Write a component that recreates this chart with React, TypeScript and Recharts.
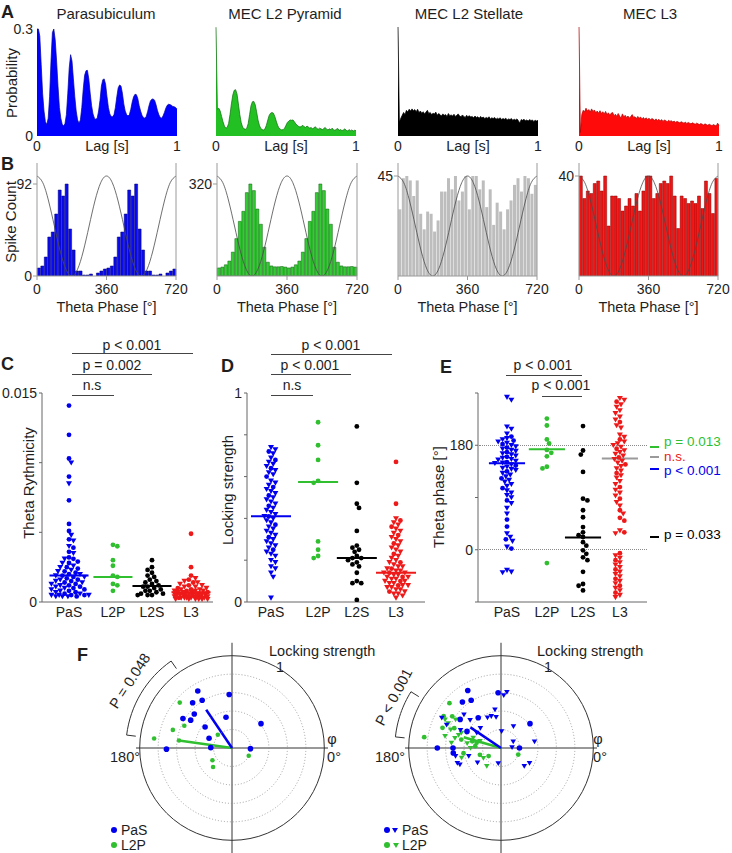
import React from 'react';
import { AreaChart, Area, ComposedChart, Bar, Line, Scatter, XAxis, YAxis, ReferenceLine, ReferenceDot } from 'recharts';

const FONT = '"Liberation Sans", Arial, Helvetica, sans-serif';
const TXT = '#1e1e1e';
const BLUE = '#0000ee';
const GREEN = '#2fbf2f';
const RED = '#ee1a1a';
const BLACK = '#000000';
const AXIS = '#666666';
const tickStyle = { fontSize: 14, fill: TXT, fontFamily: FONT };

// ---------------- A: autocorrelograms (lag 0..1 s, 10 ms bins) ----------------
const lagBins = Array.from({ length: 101 }, (_, i) => i / 100);
const acParasub = [0.30, 0.30, 0.28, 0.20, 0.12, 0.07, 0.04, 0.032, 0.05, 0.11,
  0.21, 0.29, 0.30, 0.27, 0.21, 0.14, 0.08, 0.05, 0.033, 0.028,
  0.035, 0.06, 0.12, 0.19, 0.228, 0.21, 0.16, 0.11, 0.07, 0.045,
  0.036, 0.045, 0.08, 0.13, 0.17, 0.183, 0.184, 0.16, 0.12, 0.085,
  0.062, 0.05, 0.047, 0.05, 0.07, 0.10, 0.14, 0.158, 0.16, 0.145,
  0.11, 0.08, 0.062, 0.055, 0.054, 0.06, 0.08, 0.11, 0.135, 0.143,
  0.14, 0.12, 0.09, 0.07, 0.06, 0.056, 0.06, 0.075, 0.095, 0.11,
  0.117, 0.116, 0.105, 0.085, 0.07, 0.058, 0.052, 0.05, 0.055, 0.068,
  0.085, 0.098, 0.103, 0.104, 0.10, 0.088, 0.072, 0.06, 0.052, 0.05,
  0.056, 0.066, 0.078, 0.086, 0.089, 0.088, 0.086, 0.083, 0.082, 0.08,
  0.076];
const acPyramid = [0.305, 0.075, 0.078, 0.07, 0.055, 0.04, 0.028, 0.022, 0.024, 0.035,
  0.06, 0.09, 0.115, 0.128, 0.13, 0.118, 0.09, 0.06, 0.038, 0.025,
  0.02, 0.019, 0.022, 0.035, 0.06, 0.085, 0.096, 0.097, 0.088, 0.068,
  0.045, 0.03, 0.021, 0.018, 0.017, 0.02, 0.03, 0.045, 0.058, 0.064,
  0.066, 0.064, 0.055, 0.042, 0.03, 0.022, 0.019, 0.017, 0.018, 0.022,
  0.03, 0.038, 0.042, 0.045, 0.044, 0.045, 0.04, 0.034, 0.03, 0.027,
  0.025, 0.027, 0.03, 0.026, 0.024, 0.028, 0.025, 0.022, 0.024, 0.02,
  0.023, 0.026, 0.021, 0.019, 0.022, 0.02, 0.018, 0.021, 0.024, 0.019,
  0.017, 0.02, 0.018, 0.022, 0.017, 0.016, 0.019, 0.021, 0.016, 0.018,
  0.015, 0.017, 0.02, 0.016, 0.014, 0.018, 0.015, 0.017, 0.014, 0.016,
  0.015];
const acStellate = [0.31, 0.04, 0.05, 0.058, 0.066, 0.06, 0.072, 0.068, 0.075, 0.07,
  0.076, 0.071, 0.074, 0.068, 0.075, 0.066, 0.07, 0.064, 0.068, 0.062,
  0.067, 0.072, 0.063, 0.066, 0.06, 0.064, 0.062, 0.067, 0.058, 0.063,
  0.06, 0.056, 0.062, 0.058, 0.06, 0.055, 0.063, 0.057, 0.059, 0.056,
  0.061, 0.055, 0.058, 0.062, 0.056, 0.054, 0.059, 0.055, 0.052, 0.058,
  0.054, 0.057, 0.053, 0.055, 0.051, 0.056, 0.052, 0.054, 0.05, 0.055,
  0.051, 0.053, 0.049, 0.052, 0.05, 0.054, 0.048, 0.051, 0.049, 0.052,
  0.047, 0.05, 0.048, 0.051, 0.046, 0.049, 0.047, 0.05, 0.045, 0.048,
  0.046, 0.049, 0.044, 0.047, 0.045, 0.048, 0.043, 0.036, 0.046, 0.044,
  0.047, 0.043, 0.045, 0.042, 0.046, 0.043, 0.045, 0.041, 0.044, 0.042,
  0.044];
const acL3 = [0.31, 0.01, 0.06, 0.072, 0.068, 0.078, 0.07, 0.074, 0.067, 0.076,
  0.069, 0.073, 0.065, 0.07, 0.064, 0.071, 0.063, 0.068, 0.062, 0.069,
  0.06, 0.065, 0.058, 0.064, 0.066, 0.057, 0.061, 0.055, 0.063, 0.056,
  0.05, 0.062, 0.054, 0.058, 0.052, 0.056, 0.05, 0.055, 0.06, 0.052,
  0.054, 0.049, 0.055, 0.05, 0.053, 0.048, 0.052, 0.047, 0.051, 0.046,
  0.05, 0.045, 0.049, 0.047, 0.044, 0.048, 0.043, 0.047, 0.042, 0.046,
  0.041, 0.045, 0.043, 0.04, 0.044, 0.041, 0.043, 0.039, 0.042, 0.038,
  0.041, 0.039, 0.037, 0.04, 0.038, 0.036, 0.039, 0.035, 0.038, 0.036,
  0.034, 0.037, 0.035, 0.033, 0.036, 0.034, 0.032, 0.035, 0.033, 0.031,
  0.034, 0.032, 0.03, 0.033, 0.031, 0.029, 0.032, 0.03, 0.028, 0.036,
  0.03];

// ---------------- B: theta-phase histograms (40 bins of 18 deg over 0..720) ----------------
const phaseBins = Array.from({ length: 40 }, (_, i) => 9 + 18 * i);
const phParasub = [8, 10, 19, 39, 44, 62, 86, 80, 92, 47, 26, 5, 5, 1, 1, 2, 0, 3, 5, 7,
  8, 10, 19, 39, 44, 62, 86, 80, 92, 47, 26, 5, 5, 1, 1, 2, 0, 3, 5, 7];
const phPyramid = [28, 31, 39, 52, 83, 130, 190, 225, 290, 320, 297, 233, 180, 100, 48, 35, 32, 32, 33, 31,
  28, 31, 39, 52, 83, 130, 190, 225, 290, 320, 297, 233, 180, 100, 48, 35, 32, 32, 33, 31];
const phStellate = [30, 44, 45, 43, 36, 43, 28, 21, 29, 28, 20, 25, 38, 38, 44, 39, 45, 34, 38, 45,
  30, 45, 45, 39, 43, 31, 39, 23, 33, 29, 21, 30, 34, 41, 44, 38, 45, 44, 37, 41];
const phL3 = [40, 31, 34, 33, 37, 38, 34, 40, 20, 32, 32, 31, 26, 28, 31, 28, 33, 26, 34, 40,
  40, 31, 33, 37, 38, 37, 40, 32, 19, 32, 31, 29, 30, 29, 32, 27, 38, 33, 25, 39];
// theta reference wave (normalised) every 30 deg
const cosPhase = [0, 30, 60, 90, 120, 150, 180, 210, 240, 270, 300, 330, 360, 390, 420, 450, 480, 510, 540, 570, 600, 630, 660, 690, 720];
const cosRef = [1, 0.933, 0.75, 0.5, 0.25, 0.067, 0, 0.067, 0.25, 0.5, 0.75, 0.933, 1, 0.933, 0.75, 0.5, 0.25, 0.067, 0, 0.067, 0.25, 0.5, 0.75, 0.933, 1];

// ---------------- C: theta rhythmicity ----------------
const groupNames = ['PaS', 'L2P', 'L2S', 'L3'];
const rhyPaSCirc = [0.0141, 0.0120, 0.0103, 0.0090, 0.0073, 0.0056, 0.0051, 0.0045, 0.0039, 0.0036, 0.0032, 0.0031, 0.0029, 0.0028, 0.0025, 0.0024, 0.0022, 0.0021, 0.0020, 0.0019, 0.0018, 0.0017, 0.0016, 0.0015, 0.0014, 0.0013, 0.0012, 0.0011, 0.0010, 0.0009, 0.0008, 0.0007, 0.0006, 0.0005, 0.0005, 0.0004];
const rhyPaSTri = [0.0100, 0.0085, 0.0048, 0.0044, 0.0040, 0.0035, 0.0031, 0.0028, 0.0026, 0.0025, 0.0023, 0.0022, 0.0020, 0.0019, 0.0018, 0.0016, 0.0015, 0.0014, 0.0013, 0.0012, 0.0011, 0.0010, 0.0009, 0.0008, 0.0007, 0.0006, 0.0005, 0.0005, 0.0005, 0.0004, 0.0004, 0.0004];
const rhyL2P = [0.0041, 0.0040, 0.0030, 0.0026, 0.0019, 0.0018, 0.0013, 0.0012, 0.0008];
const rhyL2S = [0.0030, 0.0025, 0.0023, 0.0021, 0.0019, 0.0018, 0.0016, 0.0015, 0.0014, 0.0013, 0.0012, 0.0011, 0.0011, 0.0010, 0.0009, 0.0008, 0.0008, 0.0007, 0.0006, 0.0006, 0.0005, 0.0005, 0.0005];
const rhyL3Circ = [0.0049, 0.0025, 0.0019, 0.0016, 0.0014, 0.0012, 0.0010, 0.0009, 0.0008, 0.0007, 0.0006, 0.0005, 0.0004, 0.0003];
const rhyL3Tri = [0.0017, 0.0015, 0.0014, 0.0013, 0.0012, 0.0011, 0.0011, 0.0010, 0.0009, 0.0009, 0.0008, 0.0008, 0.0008, 0.0007, 0.0007, 0.0007, 0.0006, 0.0006, 0.0006, 0.0006, 0.0005, 0.0005, 0.0005, 0.0005, 0.0005, 0.0004, 0.0004, 0.0004, 0.0004, 0.0004, 0.0003, 0.0003, 0.0003, 0.0003, 0.0003, 0.0002, 0.0002, 0.0002, 0.0002, 0.0002, 0.0002];
const rhyMedians = [0.0019, 0.0018, 0.00115, 0.0007];

// ---------------- D: locking strength ----------------
const lockPaSCirc = [0.72, 0.68, 0.64, 0.60, 0.55, 0.51, 0.46, 0.41, 0.37, 0.31, 0.25];
const lockPaSTri = [0.74, 0.73, 0.71, 0.69, 0.67, 0.66, 0.65, 0.63, 0.62, 0.61, 0.58, 0.57, 0.56, 0.54, 0.53, 0.52, 0.50, 0.49, 0.48, 0.47, 0.45, 0.44, 0.43, 0.42, 0.41, 0.40, 0.39, 0.38, 0.36, 0.35, 0.34, 0.33, 0.32, 0.30, 0.29, 0.28, 0.27, 0.26, 0.24, 0.23, 0.22, 0.20, 0.19, 0.17, 0.16, 0.14, 0.12, 0.02];
const lockL2P = [0.86, 0.75, 0.68, 0.58, 0.57, 0.29, 0.25, 0.22, 0.21];
const lockL2S = [0.84, 0.57, 0.47, 0.45, 0.34, 0.27, 0.26, 0.25, 0.24, 0.22, 0.21, 0.21, 0.20, 0.19, 0.18, 0.17, 0.14, 0.10, 0.09, 0.09, 0.01];
const lockL3Circ = [0.67, 0.47, 0.39, 0.36, 0.32, 0.28, 0.23, 0.19, 0.16, 0.14, 0.12, 0.10, 0.08, 0.05];
const lockL3Tri = [0.40, 0.38, 0.37, 0.35, 0.34, 0.33, 0.31, 0.30, 0.29, 0.27, 0.26, 0.25, 0.24, 0.22, 0.21, 0.20, 0.19, 0.18, 0.17, 0.17, 0.16, 0.15, 0.15, 0.14, 0.14, 0.13, 0.13, 0.12, 0.12, 0.11, 0.11, 0.10, 0.10, 0.09, 0.09, 0.08, 0.08, 0.07, 0.07, 0.06, 0.06, 0.05, 0.04, 0.04, 0.03, 0.02];
const lockMedians = [0.41, 0.574, 0.21, 0.14];

// ---------------- E: preferred theta phase ----------------
const phsPaSCirc = [195, 188, 182, 176, 168, 160, 151, 145, 135, 123, 106, 85, 52, 40, 18, 2];
const phsPaSTri = [263, 258, 212, 208, 200, 192, 190, 186, 184, 180, 178, 174, 172, 170, 166, 164, 162, 158, 156, 155, 153, 150, 149, 147, 143, 141, 139, 137, 132, 129, 126, 120, 117, 113, 110, 102, 98, 94, 90, 80, 72, 62, 28, 22, 15, 5, -35, -38, -39];
const phsL2P = [226, 214, 190, 183, 172, 167, 161, 143, 140, -23];
const phsL2S = [213, 171, 164, 134, 88, 85, 68, 56, 39, 30, 25, 22, 13, 7, -1, -7, -13, -18, -38, -59, -62, -70];
const phsL3Circ = [255, 220, 190, 174, 159, 147, 132, 108, 88, 68, 55, 50, 30, -6, -18, -34, -50, -62, -74];
const phsL3Tri = [261, 258, 250, 246, 240, 235, 229, 224, 214, 210, 198, 194, 186, 183, 180, 177, 171, 168, 165, 162, 156, 153, 150, 144, 140, 136, 128, 124, 118, 113, 103, 98, 93, 82, 76, 62, 33, 28, -10, -14, -22, -26, -30, -38, -42, -46, -54, -58, -66, -70, -78, -82];
const phsMeans = [149, 173, 21, 157];

// ---------------- F: polar (phase deg, locking strength) ----------------
const f1PaSPhase = [121, 93, 131, 122, 138, 149, 146, 101, 142, 40, 157, 181, 179, 358];
const f1PaSLock = [0.72, 0.58, 0.65, 0.61, 0.55, 0.62, 0.54, 0.34, 0.37, 0.41, 0.27, 0.71, 0.23, 0.20];
const f1L2PPhase = [139, 155, 163, 173, 172, 137, 212, 225, 335];
const f1L2PLock = [0.75, 0.57, 0.67, 0.85, 0.58, 0.21, 0.25, 0.29, 0.20];
const f1Means = { PaS: [124, 0.50], L2P: [172, 0.58] };

const f2PaSCircPhase = [120, 122, 130, 93, 145, 127, 180, 180, 186, 40, 0, 154];
const f2PaSCircLock = [0.72, 0.61, 0.65, 0.60, 0.54, 0.41, 0.69, 0.52, 0.52, 0.41, 0.20, 0.41];
const f2PaSTriPhase = [87, 84, 153, 138, 138, 114, 107, 99, 99, 190, 199, 202, 194, 212, 260, 60, 11, 28, 3, 322, 332, 88, 156, 148, 157, 136];
const f2PaSTriLock = [0.57, 0.61, 0.72, 0.54, 0.45, 0.36, 0.36, 0.34, 0.42, 0.50, 0.50, 0.48, 0.36, 0.30, 0.17, 0.27, 0.37, 0.15, 0.12, 0.32, 0.35, 0.18, 0.48, 0.31, 0.64, 0.31];
const f2L2PCircPhase = [139, 172, 151, 161, 168, 167, 168, 188, 198, 213, 339, 147, 176, 157];
const f2L2PCircLock = [0.74, 0.84, 0.71, 0.67, 0.44, 0.32, 0.27, 0.41, 0.24, 0.16, 0.20, 0.63, 0.28, 0.55];
const f2L2PTriPhase = [153, 155, 160, 168, 168, 172, 160, 162, 180, 210, 232, 194, 148, 163, 174, 159];
const f2L2PTriLock = [0.68, 0.63, 0.58, 0.62, 0.51, 0.37, 0.32, 0.24, 0.33, 0.22, 0.25, 0.44, 0.58, 0.48, 0.54, 0.46];
const f2Means = { PaS: [146, 0.40], L2P: [164, 0.42] };

// ================= helpers =================
function T({ x, y, children, anchor = 'middle', size = 14, color = TXT, rotate = 0, bold = false }: any) {
  const tx = anchor === 'middle' ? '-50%' : anchor === 'end' ? '-100%' : '0%';
  return (
    <div style={{
      position: 'absolute', left: x, top: y, transform: `translate(${tx}, -50%) rotate(${rotate}deg)`,
      fontSize: size, lineHeight: 1, whiteSpace: 'nowrap', color, fontWeight: bold ? 700 : 400, fontFamily: FONT,
    }}>{children}</div>
  );
}
function HL({ x1, x2, y, color = '#444', w = 1 }: any) {
  return <div style={{ position: 'absolute', left: x1, top: y - w / 2, width: x2 - x1, height: w, background: color }} />;
}

function circleShape(color: string, r: number) {
  return (p: any) => <circle cx={p.cx} cy={p.cy} r={r} fill={color} />;
}
function triShape(color: string, hw: number) {
  return (p: any) => (
    <path d={`M${p.cx - hw},${p.cy - hw * 0.75} L${p.cx + hw},${p.cy - hw * 0.75} L${p.cx},${p.cy + hw * 0.95} Z`} fill={color} />
  );
}

// ================= A =================
function AutoPanel({ x, values, fill, stroke, showY }: any) {
  const plotY = 27, plotW = 140, plotH = 109;
  const L = 40, R = 10, Tm = 10, B = 22;
  const W = plotW + L + R, H = plotH + Tm + B;
  const rows = lagBins.map((lag, i) => ({ lag, p: values[i] }));
  return (
    <div style={{ position: 'absolute', left: x - L, top: plotY - Tm, width: W, height: H }}>
      <AreaChart width={W} height={H} data={rows} margin={{ top: Tm, right: R, bottom: 0, left: showY ? 0 : L }}>
        <XAxis dataKey="lag" type="number" domain={[0, 1]} ticks={[0, 1]} interval={0} axisLine={false} tickLine={false} height={B} tickSize={3} tickMargin={2} tick={tickStyle} />
        <YAxis hide={!showY} width={L} type="number" domain={[0, 0.3056]} allowDataOverflow ticks={[0, 0.3]} interval={0} axisLine={false} tickLine={false} tickSize={2} tickMargin={2} tick={tickStyle} />
        <Area type="linear" dataKey="p" stroke={stroke} strokeWidth={0.7} fill={fill} fillOpacity={1} isAnimationActive={false} dot={false} activeDot={false} />
      </AreaChart>
    </div>
  );
}

// ================= B =================
function PhasePanel({ x, w, counts, top, ticks, fill, stroke }: any) {
  const plotY = 163, plotH = 113;
  const L = 40, R = 16, Tm = 8, B = 24;
  const W = w + L + R, H = plotH + Tm + B;
  const rows = phaseBins.map((b, i) => ({ bin: b, n: counts[i] }));
  const cosRows = cosPhase.map((p, i) => ({ phase: p, c: cosRef[i] }));
  return (
    <div style={{ position: 'absolute', left: x - L, top: plotY - Tm, width: W, height: H }}>
      <ComposedChart width={W} height={H} data={rows} margin={{ top: Tm, right: R, bottom: 0, left: 0 }} barCategoryGap={0.35}>
        <XAxis xAxisId="num" dataKey="phase" type="number" domain={[0, 720]} ticks={[0, 360, 720]} interval={0} allowDataOverflow height={B}
          axisLine={{ stroke: '#9a9a9a' }} tickLine={{ stroke: '#9a9a9a' }} tickSize={4} tickMargin={4} tick={tickStyle} />
        <XAxis xAxisId="cat" dataKey="bin" type="category" hide height={0} />
        <YAxis yAxisId="cnt" type="number" width={L} domain={[0, top]} allowDataOverflow ticks={ticks} interval={0}
          axisLine={{ stroke: '#9a9a9a' }} tickLine={{ stroke: '#9a9a9a' }} tickSize={4} tickMargin={1} tick={tickStyle} />
        <YAxis yAxisId="cos" type="number" hide width={0} domain={[0, 1.13]} allowDataOverflow />
        <Bar xAxisId="cat" yAxisId="cnt" dataKey="n" fill={fill} stroke={stroke} strokeWidth={stroke === 'none' ? 0 : 0.5} isAnimationActive={false} />
        <Line xAxisId="num" yAxisId="cos" data={cosRows} dataKey="c" type="natural" dot={false} activeDot={false} stroke="#4a4a4a" strokeWidth={0.8} isAnimationActive={false} />
        <ReferenceLine xAxisId="num" yAxisId="cnt" x={720} stroke="#9a9a9a" />
      </ComposedChart>
    </div>
  );
}

// ================= C / D / E =================
function swarm(pts: { v: number; tri: boolean }[], pxPerY: number, maxHalf: number) {
  const D = 4.4, STEP = 1.1;
  const sorted = [...pts].sort((a, b) => b.v - a.v);
  const placed: { x: number; y: number }[] = [];
  const res: { v: number; tri: boolean; off: number }[] = [];
  const n = Math.floor(maxHalf / STEP);
  sorted.forEach((p, idx) => {
    const y = p.v * pxPerY;
    let chosen = 0, bestGap = -1, found = false;
    for (let k = 0; k <= n && !found; k++) {
      const cands = k === 0 ? [0] : (idx % 2 ? [k * STEP, -k * STEP] : [-k * STEP, k * STEP]);
      for (const x of cands) {
        let minD = Infinity;
        for (const q of placed) {
          const d = Math.hypot(q.x - x, q.y - y);
          if (d < minD) minD = d;
        }
        if (minD >= D) { chosen = x; found = true; break; }
        if (minD > bestGap) { bestGap = minD; chosen = x; }
      }
    }
    placed.push({ x: chosen, y });
    res.push({ ...p, off: chosen });
  });
  return res;
}

function StripPanel({ plotX, plotW, xDomain, yDomain, yTicks, yLabeled, groups, lineVals, lineColors }: any) {
  const plotY = 393, plotH = 209;
  const L = 46, R = 4, Tm = 10, B = 24;
  const W = plotW + L + R, H = plotH + Tm + B;
  const pxX = plotW / (xDomain[1] - xDomain[0]);
  const pxY = plotH / (yDomain[1] - yDomain[0]);
  const series: any[] = [];
  groups.forEach((g: any, gi: number) => {
    const pts = [...g.circles.map((v: number) => ({ v, tri: false })), ...g.triangles.map((v: number) => ({ v, tri: true }))];
    const sw = swarm(pts, pxY, g.spread);
    series.push({ key: `c${gi}`, data: sw.filter(p => !p.tri).map(p => ({ x: g.pos + p.off / pxX, y: p.v })), shape: circleShape(g.color, 2.4) });
    series.push({ key: `t${gi}`, data: sw.filter(p => p.tri).map(p => ({ x: g.pos + p.off / pxX, y: p.v })), shape: triShape(g.color, 3) });
  });
  const half = 0.48;
  const catLabel = (v: number) => {
    const i = groups.findIndex((g: any) => Math.abs(g.pos - v) < 1e-6);
    return i >= 0 ? groupNames[i] : '';
  };
  return (
    <div style={{ position: 'absolute', left: plotX - L, top: plotY - Tm, width: W, height: H }}>
      <ComposedChart width={W} height={H} margin={{ top: Tm, right: R, bottom: 0, left: 0 }}>
        <XAxis dataKey="x" type="number" domain={xDomain} allowDataOverflow ticks={groups.map((g: any) => g.pos)} interval={0}
          tickFormatter={catLabel} axisLine={{ stroke: AXIS }} tickLine={false} tickSize={3} tickMargin={2} height={B} tick={tickStyle} />
        <YAxis dataKey="y" type="number" width={L} domain={yDomain} allowDataOverflow ticks={yTicks} interval={0}
          tickFormatter={(v: number) => (yLabeled.includes(v) ? String(v) : '')}
          axisLine={{ stroke: AXIS }} tickLine={{ stroke: AXIS }} tickSize={3} tickMargin={2} tick={tickStyle} />
        {series.map(s => (
          <Scatter key={s.key} data={s.data} shape={s.shape} isAnimationActive={false} />
        ))}
        {groups.map((g: any, gi: number) => (
          <Line key={`m${gi}`} data={[{ x: g.pos - half, y: lineVals[gi] }, { x: g.pos + half, y: lineVals[gi] }]} dataKey="y" type="linear"
            stroke={lineColors[gi]} strokeWidth={2} dot={false} activeDot={false} isAnimationActive={false} />
        ))}
      </ComposedChart>
    </div>
  );
}

// ================= F =================
const toXY = (phase: number, s: number) => ({ x: s * Math.cos((phase * Math.PI) / 180), y: s * Math.sin((phase * Math.PI) / 180) });
function bracketPts(a1: number, a2: number, rIn: number, rOut: number) {
  const pts = [toXY(a1, rIn)];
  const n = 16;
  for (let i = 0; i <= n; i++) pts.push(toXY(a1 + ((a2 - a1) * i) / n, rOut));
  pts.push(toXY(a2, rIn));
  return pts;
}

function PolarPanel({ cx, cy, sets, means, bracket }: any) {
  const S = 240, DOM = 1.3;
  const unit = S / (2 * DOM);
  return (
    <div style={{ position: 'absolute', left: cx - S / 2, top: cy - S / 2, width: S, height: S }}>
      <ComposedChart width={S} height={S} margin={{ top: 0, right: 0, bottom: 0, left: 0 }}>
        <XAxis dataKey="x" type="number" domain={[-DOM, DOM]} allowDataOverflow hide />
        <YAxis dataKey="y" type="number" domain={[-DOM, DOM]} allowDataOverflow hide />
        {[0.2, 0.4, 0.6, 0.8].map(k => (
          <ReferenceDot key={k} x={0} y={0} r={k * unit} fill="none" stroke="#8a8a8a" strokeWidth={0.8} strokeDasharray="1 2" />
        ))}
        <ReferenceDot x={0} y={0} r={unit} fill="none" stroke="#333" strokeWidth={1} />
        <ReferenceLine segment={[{ x: 0, y: -DOM }, { x: 0, y: 1.14 }]} stroke="#333" />
        <ReferenceLine segment={[{ x: -1.04, y: 0 }, { x: 1.04, y: 0 }]} stroke="#333" />
        <Line data={bracketPts(bracket[0], bracket[1], 1.05, 1.15)} dataKey="y" type="linear" stroke="#333" strokeWidth={1} dot={false} activeDot={false} isAnimationActive={false} />
        {sets.map((s: any, i: number) => (
          <Scatter key={`s${i}`} data={s.phase.map((p: number, j: number) => toXY(p, s.lock[j]))}
            shape={s.tri ? triShape(s.color, 2.8) : circleShape(s.color, s.r)} isAnimationActive={false} />
        ))}
        <Line data={[{ x: 0, y: 0 }, toXY(means.L2P[0], means.L2P[1])]} dataKey="y" type="linear" stroke={GREEN} strokeWidth={2.5} dot={false} activeDot={false} isAnimationActive={false} />
        <Line data={[{ x: 0, y: 0 }, toXY(means.PaS[0], means.PaS[1])]} dataKey="y" type="linear" stroke={BLUE} strokeWidth={2.5} dot={false} activeDot={false} isAnimationActive={false} />
      </ComposedChart>
    </div>
  );
}

function Dot({ x, y, color, d = 6 }: any) {
  return <div style={{ position: 'absolute', left: x - d / 2, top: y - d / 2, width: d, height: d, borderRadius: '50%', background: color }} />;
}
function Tri({ x, y, color }: any) {
  return <div style={{ position: 'absolute', left: x - 3, top: y - 2.5, width: 0, height: 0, borderLeft: '3px solid transparent', borderRight: '3px solid transparent', borderTop: `5px solid ${color}` }} />;
}

// ================= App =================
export default function App() {
  const stripColors = [BLUE, GREEN, BLACK, RED];
  return (
    <div style={{ position: 'absolute', left: 0, top: 0, width: 732, height: 853, overflow: 'hidden', background: '#fff', fontFamily: FONT }}>
      {/* ---- A ---- */}
      <T x={1} y={12} anchor="start" size={18} bold>A</T>
      <T x={106} y={13} size={15}>Parasubiculum</T>
      <T x={285} y={13} size={15}>MEC L2 Pyramid</T>
      <T x={469} y={13} size={15}>MEC L2 Stellate</T>
      <T x={650} y={13} size={15}>MEC L3</T>
      <T x={11} y={83} size={15} rotate={-90}>Probability</T>
      <AutoPanel x={37} values={acParasub} fill="#0000ff" stroke="#0000a0" showY />
      <AutoPanel x={216} values={acPyramid} fill="#22c022" stroke="#0f6a0f" />
      <AutoPanel x={398} values={acStellate} fill="#000000" stroke="#000000" />
      <AutoPanel x={579} values={acL3} fill="#ff0a0a" stroke="#b00000" />
      {[107, 286, 468, 649].map(cx => <T key={cx} x={cx} y={146} size={14.5}>Lag [s]</T>)}

      {/* ---- B ---- */}
      <T x={1} y={164} anchor="start" size={18} bold>B</T>
      <T x={10} y={222} size={15} rotate={-90}>Spike Count</T>
      <PhasePanel x={37} w={139} counts={phParasub} top={113} ticks={[0, 92]} fill="#0a0af0" stroke="#00006a" />
      <PhasePanel x={217} w={140} counts={phPyramid} top={393} ticks={[320]} fill="#34cc34" stroke="#0c5c0c" />
      <PhasePanel x={398} w={139} counts={phStellate} top={50.85} ticks={[45]} fill="#bdbdbd" stroke="none" />
      <PhasePanel x={579} w={139} counts={phL3} top={45.2} ticks={[40]} fill="#ee1515" stroke="#8a0000" />
      {[106.5, 287, 467.5, 648.5].map(cx => <T key={cx} x={cx} y={307} size={14.5}>Theta Phase [°]</T>)}

      {/* ---- C ---- */}
      <T x={1} y={364} anchor="start" size={18} bold>C</T>
      <T x={28} y={483} size={15} rotate={-90}>Theta Rythmicity</T>
      <T x={132} y={345}>p &lt; 0.001</T><HL x1={72} x2={193} y={353} />
      <T x={112} y={365}>p = 0.002</T><HL x1={72} x2={152} y={374} />
      <T x={92} y={385}>n.s</T><HL x1={72} x2={114} y={395} />
      <StripPanel plotX={42} plotW={171} xDomain={[0.336, 4.54]} yDomain={[0, 0.015]}
        yTicks={[0, 0.005, 0.01, 0.015]} yLabeled={[0, 0.015]}
        groups={[
          { pos: 1, color: BLUE, circles: rhyPaSCirc, triangles: rhyPaSTri, spread: 20 },
          { pos: 2.08, color: GREEN, circles: rhyL2P, triangles: [], spread: 14 },
          { pos: 3.04, color: BLACK, circles: rhyL2S, triangles: [], spread: 15 },
          { pos: 4, color: RED, circles: rhyL3Circ, triangles: rhyL3Tri, spread: 17 },
        ]}
        lineVals={rhyMedians} lineColors={stripColors} />

      {/* ---- D ---- */}
      <T x={221} y={366} anchor="start" size={18} bold>D</T>
      <T x={227} y={490} size={15} rotate={-90}>Locking strength</T>
      <T x={331} y={345}>p &lt; 0.001</T><HL x1={271} x2={392} y={354} />
      <T x={310} y={365}>p &lt; 0.001</T><HL x1={271} x2={351} y={374} />
      <T x={292} y={385}>n.s</T><HL x1={271} x2={313} y={395} />
      <StripPanel plotX={247} plotW={178} xDomain={[0.424, 4.696]} yDomain={[0, 1]}
        yTicks={[0, 0.2, 0.4, 0.6, 0.8, 1]} yLabeled={[0, 1]}
        groups={[
          { pos: 1, color: BLUE, circles: lockPaSCirc, triangles: lockPaSTri, spread: 18 },
          { pos: 2.13, color: GREEN, circles: lockL2P, triangles: [], spread: 12 },
          { pos: 3.06, color: BLACK, circles: lockL2S, triangles: [], spread: 13 },
          { pos: 4, color: RED, circles: lockL3Circ, triangles: lockL3Tri, spread: 17 },
        ]}
        lineVals={lockMedians} lineColors={stripColors} />

      {/* ---- E ---- */}
      <T x={440} y={367} anchor="start" size={18} bold>E</T>
      <T x={438} y={497} size={15} rotate={-90}>Theta phase [°]</T>
      <T x={543} y={365}>p &lt; 0.001</T><HL x1={506} x2={582} y={375} />
      <T x={561} y={385}>p &lt; 0.001</T><HL x1={542} x2={582} y={396} />
      {/* dotted reference levels at 180 and 0 deg */}
      <div style={{ position: 'absolute', left: 479, top: 445, width: 168, borderTop: '1px dotted #8a8a8a' }} />
      <div style={{ position: 'absolute', left: 479, top: 549, width: 168, borderTop: '1px dotted #8a8a8a' }} />
      <StripPanel plotX={478} plotW={169} xDomain={[0.23, 4.72]} yDomain={[-90, 270]}
        yTicks={[-90, 0, 90, 180, 270]} yLabeled={[0, 180]}
        groups={[
          { pos: 1, color: BLUE, circles: phsPaSCirc, triangles: phsPaSTri, spread: 17 },
          { pos: 2.06, color: GREEN, circles: phsL2P, triangles: [], spread: 10 },
          { pos: 3.02, color: BLACK, circles: phsL2S, triangles: [], spread: 12 },
          { pos: 4, color: RED, circles: phsL3Circ, triangles: phsL3Tri, spread: 18 },
        ]}
        lineVals={phsMeans} lineColors={[BLUE, GREEN, BLACK, '#9a9a9a']} />
      <HL x1={650} x2={659} y={447} color={GREEN} w={1.5} /><T x={664} y={442} anchor="start" size={13.5} color={GREEN}>p = 0.013</T>
      <HL x1={650} x2={659} y={457} color="#9a9a9a" w={1.5} /><T x={664} y={456.5} anchor="start" size={13.5} color={RED}>n.s.</T>
      <HL x1={650} x2={659} y={469} color={BLUE} w={1.5} /><T x={664} y={471} anchor="start" size={13.5} color={BLUE}>p &lt; 0.001</T>
      <HL x1={650} x2={659} y={537} color={BLACK} w={1.5} /><T x={664} y={535} anchor="start" size={13.5} color={BLACK}>p = 0.033</T>

      {/* ---- F ---- */}
      <T x={77} y={655} anchor="start" size={18} bold>F</T>
      <PolarPanel cx={232} cy={748} bracket={[125, 173]} means={f1Means}
        sets={[
          { phase: f1PaSPhase, lock: f1PaSLock, color: BLUE, r: 2.8 },
          { phase: f1L2PPhase, lock: f1L2PLock, color: GREEN, r: 2.3 },
        ]} />
      <T x={269} y={651} anchor="start" size={14.5}>Locking strength</T>
      <T x={280} y={667} size={14.5}>1</T>
      <T x={332} y={739} size={14.5}>φ</T>
      <T x={334} y={757} size={14.5}>0°</T>
      <T x={125} y={757} size={14.5}>180°</T>
      <T x={130} y={681} size={14.5} rotate={-57}>P = 0.048</T>
      <Dot x={114} y={830} color={BLUE} /><T x={121} y={830} anchor="start" size={14}>PaS</T>
      <Dot x={114} y={845} color={GREEN} /><T x={121} y={845} anchor="start" size={14}>L2P</T>

      <PolarPanel cx={501} cy={748} bracket={[148, 174]} means={f2Means}
        sets={[
          { phase: f2L2PCircPhase, lock: f2L2PCircLock, color: GREEN, r: 2.4 },
          { phase: f2L2PTriPhase, lock: f2L2PTriLock, color: GREEN, tri: true },
          { phase: f2PaSCircPhase, lock: f2PaSCircLock, color: BLUE, r: 2.8 },
          { phase: f2PaSTriPhase, lock: f2PaSTriLock, color: BLUE, tri: true },
        ]} />
      <T x={537} y={651} anchor="start" size={14.5}>Locking strength</T>
      <T x={548} y={667} size={14.5}>1</T>
      <T x={598} y={739} size={14.5}>φ</T>
      <T x={600} y={757} size={14.5}>0°</T>
      <T x={390} y={757} size={14.5}>180°</T>
      <T x={394} y={697} size={14.5} rotate={-62}>P &lt; 0.001</T>
      <Dot x={387} y={830} color={BLUE} /><Tri x={395} y={830} color={BLUE} /><T x={402} y={830} anchor="start" size={14}>PaS</T>
      <Dot x={387} y={845} color={GREEN} /><Tri x={396} y={845} color={GREEN} /><T x={402} y={845} anchor="start" size={14}>L2P</T>
    </div>
  );
}
